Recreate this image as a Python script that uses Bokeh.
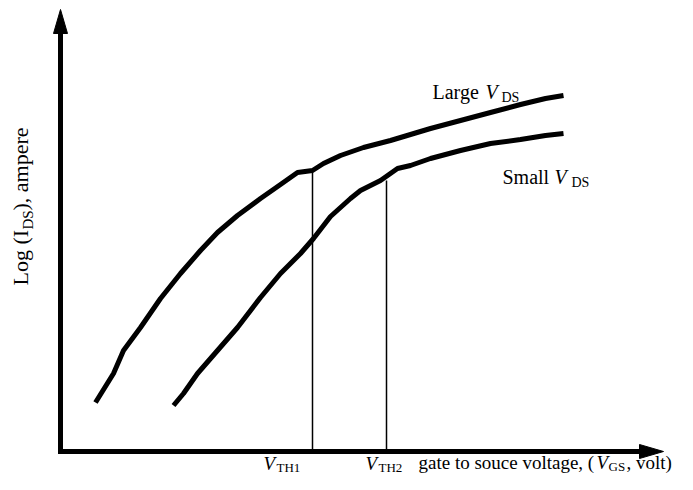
from bokeh.plotting import figure
from bokeh.models import Range1d
from bokeh.core.properties import value
from bokeh.embed import file_html
from bokeh.resources import INLINE
import math

# ---- data (schematic units: x = gate-source voltage, y = log(I_DS)) ----
large_vgs = [35, 53, 63, 80, 100, 120, 140, 157, 177, 200, 220, 237, 252, 263, 280, 303, 330, 370, 400, 430, 460, 485, 503]
large_log = [49, 78, 101, 124, 153, 178, 201, 219, 236, 253, 267, 279, 281, 288, 296, 304, 311, 323, 331, 339, 347, 353, 356]

small_vgs = [113, 123, 137, 157, 177, 200, 220, 240, 253, 270, 290, 300, 320, 337, 350, 370, 400, 430, 460, 485, 503]
small_log = [46, 58, 78, 101, 124, 154, 178, 198, 213, 235, 253, 261, 271, 283, 286, 293, 301, 308, 312, 316, 318]

vth_x = [252, 326]          # V_TH1, V_TH2
vth_top = [281, 271]        # where each threshold line meets its curve

x_axis_end = 603            # arrow tip of the V_GS axis
y_axis_end = 442            # arrow tip of the log(I_DS) axis

# ---- figure ----
W, H = 677, 474
p = figure(width=W, height=H, x_range=Range1d(-60, 617), y_range=Range1d(-23, 451),
           output_backend="svg", toolbar_location=None, min_border=0,
           x_axis_location=None, y_axis_location=None)
p.grid.visible = False
p.outline_line_color = None
p.background_fill_color = "white"
p.border_fill_color = "white"

BLACK = "#000000"
FONT = value("Liberation Serif")

# axes with arrow heads
head_len, head_half = 24, 7
p.segment(x0=[0, -2.5], y0=[-2.5, 0], x1=[0, x_axis_end - head_len + 2], y1=[y_axis_end - head_len + 2, 0],
          line_color=BLACK, line_width=5, line_cap="butt")
p.patches(xs=[[0 - head_half, 0 + head_half, 0], [x_axis_end - head_len, x_axis_end - head_len, x_axis_end]],
          ys=[[y_axis_end - head_len, y_axis_end - head_len, y_axis_end], [-head_half, head_half, 0]],
          fill_color=BLACK, line_color=BLACK, line_width=1)

# threshold lines
p.segment(x0=vth_x, y0=[0, 0], x1=vth_x, y1=vth_top, line_color=BLACK, line_width=1.5)

# curves
p.line(large_vgs, large_log, line_color=BLACK, line_width=5, line_join="round", line_cap="butt")
p.line(small_vgs, small_log, line_color=BLACK, line_width=5, line_join="round", line_cap="butt")

SHIFT = 6  # compensation for where the renderer puts the alphabetic baseline


def label(px, py, s, size="20px", italic=False, angle=0.0):
    if angle:
        px -= SHIFT
    else:
        py -= SHIFT
    p.text(x=[px - 60], y=[451 - py], text=[s], text_font=FONT, text_font_size=size,
           text_font_style="italic" if italic else "normal", text_color=BLACK,
           text_align="left", text_baseline="alphabetic", angle=angle)


# y-axis title (rotated)
R = math.pi / 2
label(26, 285, "Log (I", size="22px", angle=R)
label(33, 229, "DS", size="15px", angle=R)
label(26, 210, "), ampere", size="22px", angle=R)

# threshold labels
label(263, 469, "V", size="19px", italic=True)
label(276, 473, "TH1", size="13px")
label(365, 469, "V", size="19px", italic=True)
label(378, 473, "TH2", size="13px")

# x-axis title
label(418, 468, "gate to souce voltage, (", size="19px")
label(596, 468, "V", size="19px", italic=True)
label(608, 472, "GS", size="13px")
label(626, 468, ", volt)", size="19px")

# curve labels
label(432, 97, "Large")
label(485, 97, "V", italic=True)
label(501, 103, "DS", size="14px")
label(502, 182, "Small")
label(554, 182, "V", italic=True)
label(571, 188, "DS", size="14px")

open("out.html", "w").write(file_html(p, INLINE))
